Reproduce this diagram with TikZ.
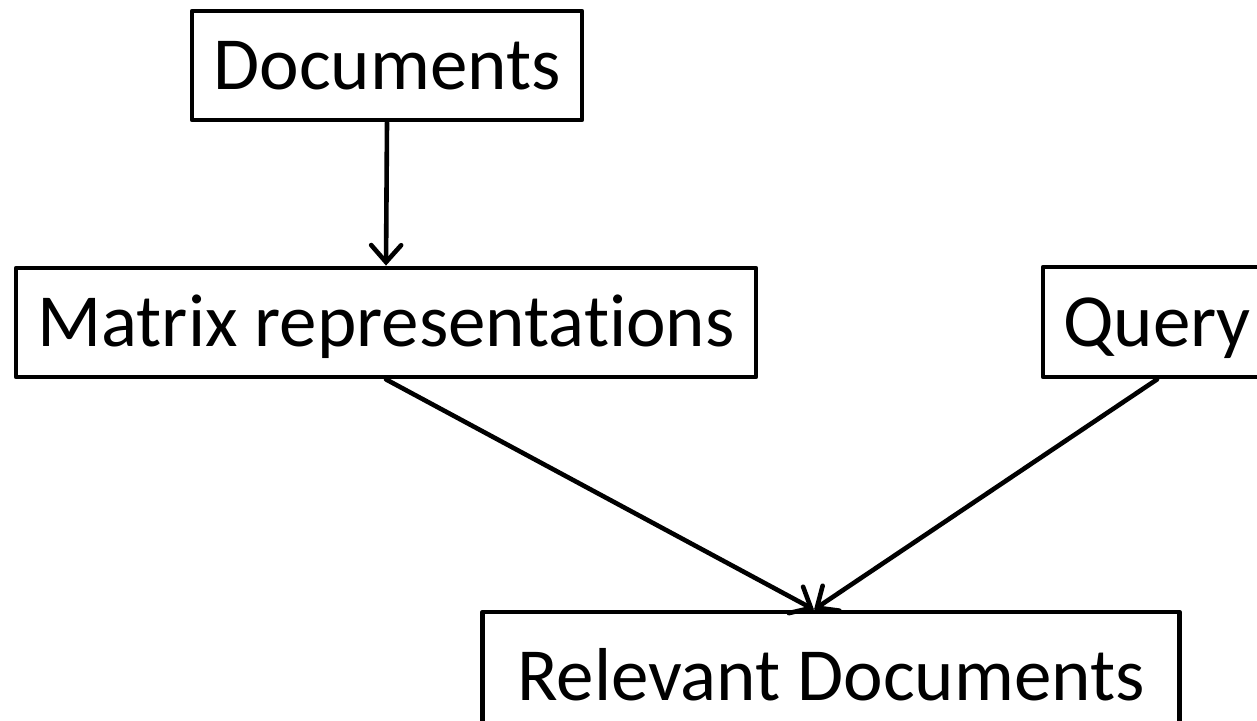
\documentclass[tikz,border=0pt]{standalone}
\usepackage{fontspec}
\setmainfont{Carlito}[Ligatures={NoCommon,NoRequired,NoContextual}]
\usetikzlibrary{arrows.meta}
\begin{document}
\begin{tikzpicture}[x=1pt,y=-1pt,
  box/.style={draw=black, line width=4.8pt, line join=round, inner sep=0pt,
    text height=48pt, text depth=0pt, font=\fontsize{75}{88}\selectfont},
  flow/.style={line width=4.6pt, line cap=round,
    -{Straight Barb[length=17pt,width=30pt,line cap=round]}}]
  \useasboundingbox (0,0) rectangle (1257,720);
  \fill[white] (0,0) rectangle (1257,720);
  \clip (0,0) rectangle (1257,720);

  \node[box, minimum width=390pt, minimum height=109pt] (docs) at (387,65.5) {Documents};
  \node[box, minimum width=740pt, minimum height=109pt] (mat) at (386,322.5) {Matrix representations};
  \node[box, minimum width=228pt, minimum height=110pt] (query) at (1157,322) {Query};
  \node[box, minimum width=697pt, minimum height=128pt] (rel) at (831,676) {Relevant Documents};

  \draw[flow] (docs.south) -- (mat.north);
  \draw[flow] (mat.south) -- ([xshift=-17pt]rel.north);
  \draw[flow] (query.south) -- ([xshift=-17pt]rel.north);
\end{tikzpicture}
\end{document}
